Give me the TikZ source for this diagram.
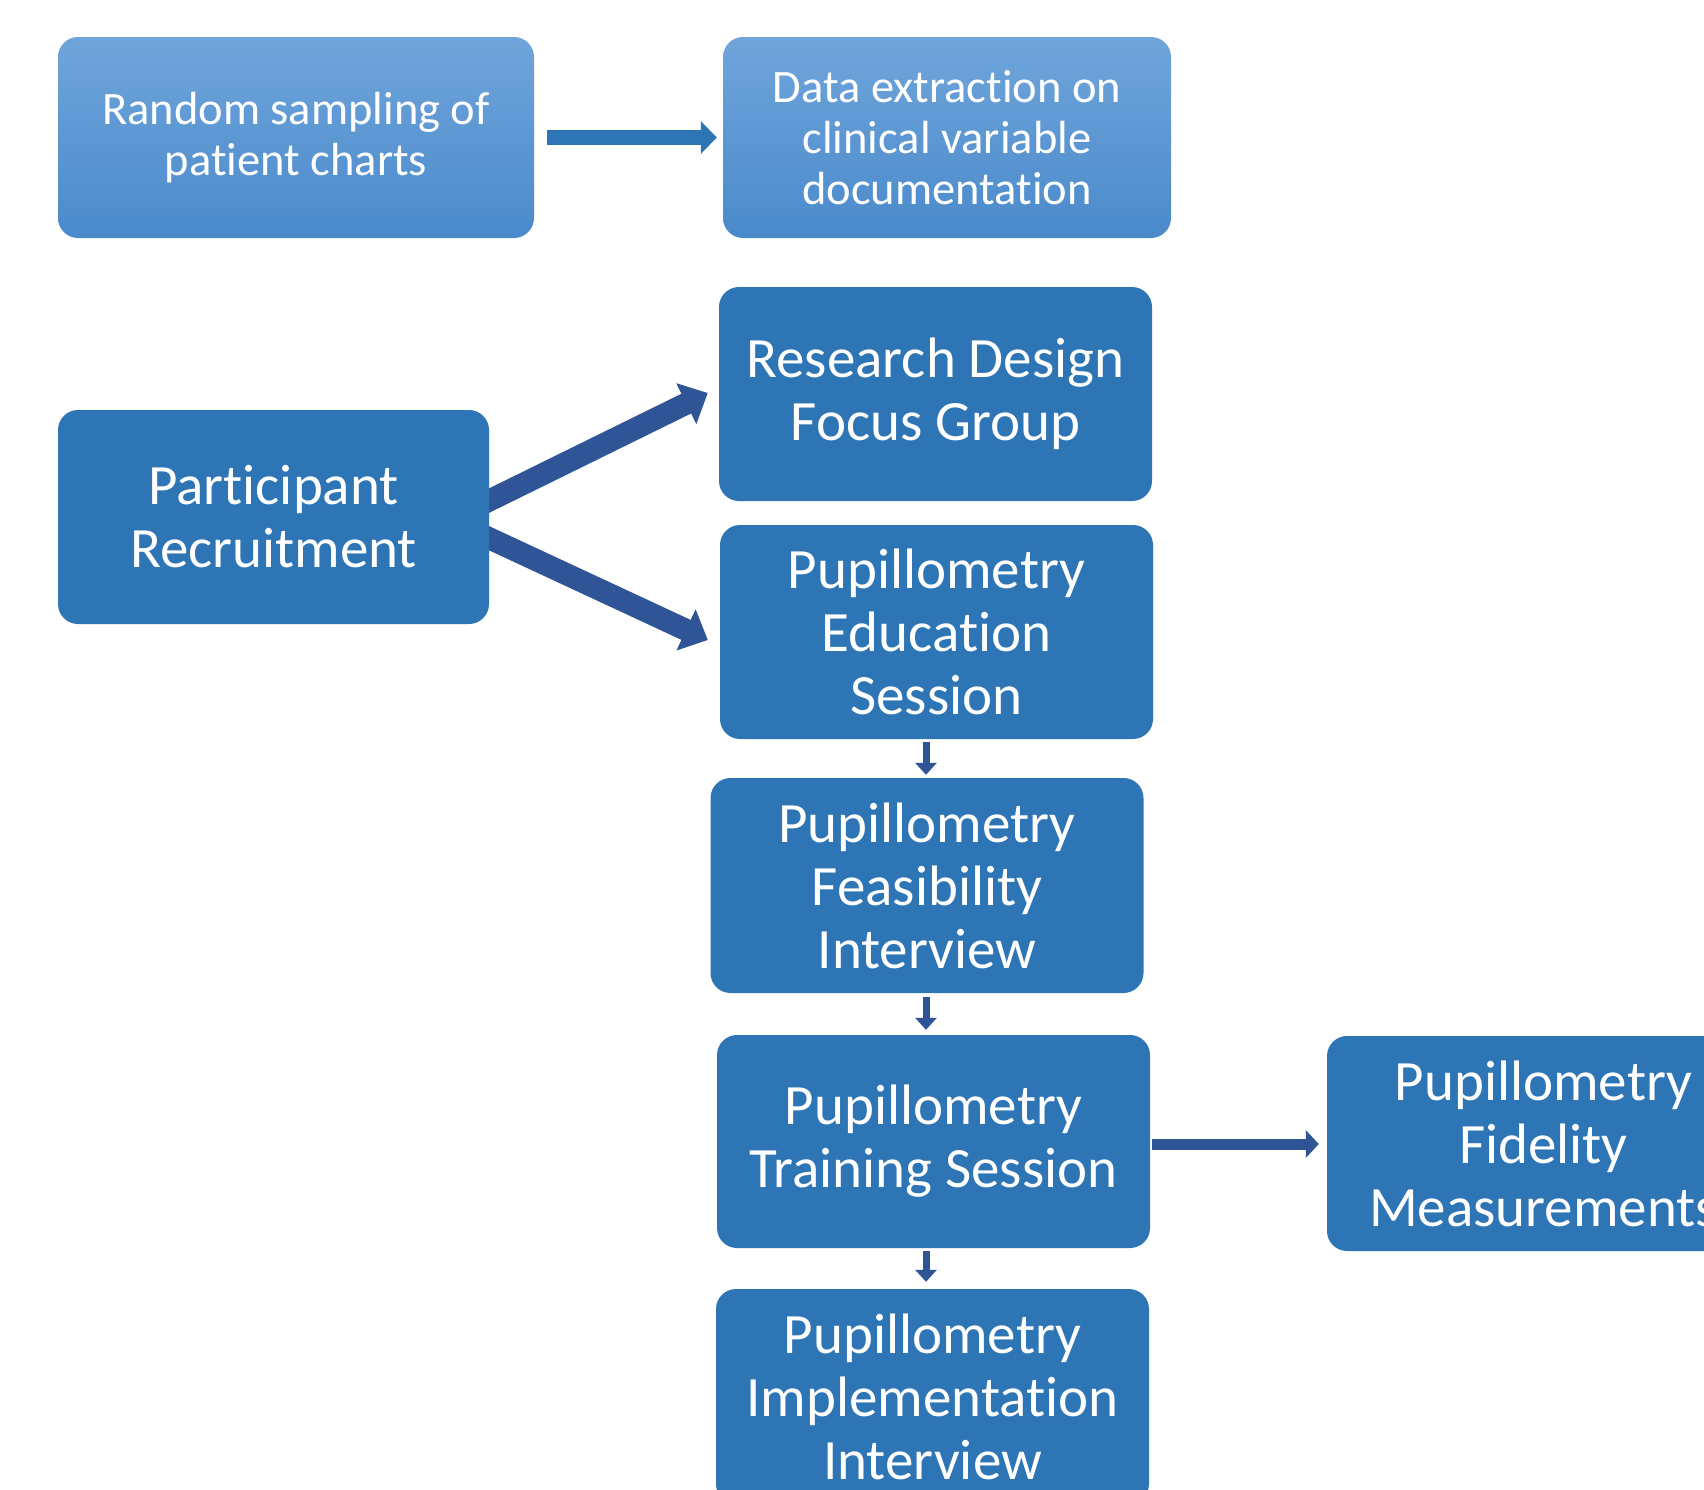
\documentclass[tikz,border=0pt]{standalone}
\usepackage{fontspec}
\setmainfont[Ligatures={NoCommon}]{Carlito}
\usetikzlibrary{arrows.meta,calc}
\definecolor{boxblue}{HTML}{2E75B6}
\definecolor{arrowblue}{HTML}{2F5597}
\definecolor{lighttop}{HTML}{70A5DB}
\definecolor{lightbot}{HTML}{4A8ACB}
\pgfdeclarelayer{bg}
\pgfsetlayers{bg,main}

\begin{document}
\begin{tikzpicture}[x=1pt,y=-1pt,
  stage/.style={fill=boxblue, rounded corners=20pt, text=white, align=center,
    font=\fontsize{57}{63}\selectfont, inner sep=0pt,
    minimum width=433pt, minimum height=214pt},
  chart/.style={top color=lighttop, bottom color=lightbot, rounded corners=20pt,
    text=white, align=center, font=\fontsize{46.5}{51}\selectfont,
    inner sep=0pt, minimum height=201pt},
  bigflow/.style={arrowblue, line width=22pt, -{Triangle[width=44pt,length=24pt]}},
  sideflow/.style={line width=11pt, -{Triangle[width=27pt,length=13pt]}},
  stepflow/.style={arrowblue, line width=7pt, -{Triangle[width=21pt,length=12pt]}}
]
\useasboundingbox (0,0) rectangle (1704,1489);
\clip (0,0) rectangle (1704,1489);

% chart review track
\node[chart, minimum width=476pt] (sample) at (296,137.5) {Random sampling of\\patient charts};
\node[chart, minimum width=448pt] (extract) at (947,137.5) {Data extraction on\\clinical variable\\documentation};

% participant track
\node[stage, minimum width=431pt] (rec) at (273.5,517) {Participant\\Recruitment};
\node[stage] (res) at (935.5,394) {Research Design\\Focus Group};
\node[stage] (edu) at (936.5,632) {Pupillometry\\Education\\Session};
\node[stage, minimum height=215pt] (feas) at (927,885.5) {Pupillometry\\Feasibility\\Interview};
\node[stage, minimum height=213pt] (train) at (933.5,1141.5) {Pupillometry\\Training Session};
\node[stage, minimum height=215pt] (fid) at (1543.5,1143.5) {Pupillometry\\Fidelity\\Measurements};
\node[stage, minimum height=215pt] (impl) at (932.5,1396.5) {Pupillometry\\Implementation\\Interview};

% the two branches start under the recruitment box
\begin{pgfonlayer}{bg}
  \fill[white] (0,0) rectangle (1704,1489);
  \draw[bigflow] ($(rec.east)+(-7,-13)$) -- ($(res.west)+(-11,-1)$);
  \draw[bigflow] ($(rec.east)+(-7,18)$) -- ($(edu.west)+(-12,8)$);
\end{pgfonlayer}

\draw[sideflow, boxblue, line width=15pt, -{Triangle[width=32pt,length=16pt]}]
  ($(sample.east)+(13,0)$) -- ($(extract.west)+(-6,0)$);
\draw[sideflow, arrowblue] ($(train.east)+(2,2.5)$) -- ($(fid.west)+(-8,0.5)$);

\draw[stepflow] ($(edu.south)+(-10.5,3)$) -- ($(feas.north)+(-1,-3)$);
\draw[stepflow] ($(feas.south)+(-1,4)$) -- ($(train.north)+(-7.5,-5)$);
\draw[stepflow] ($(train.south)+(-7.5,3)$) -- ($(impl.north)+(-6.5,-7)$);
\end{tikzpicture}
\end{document}
